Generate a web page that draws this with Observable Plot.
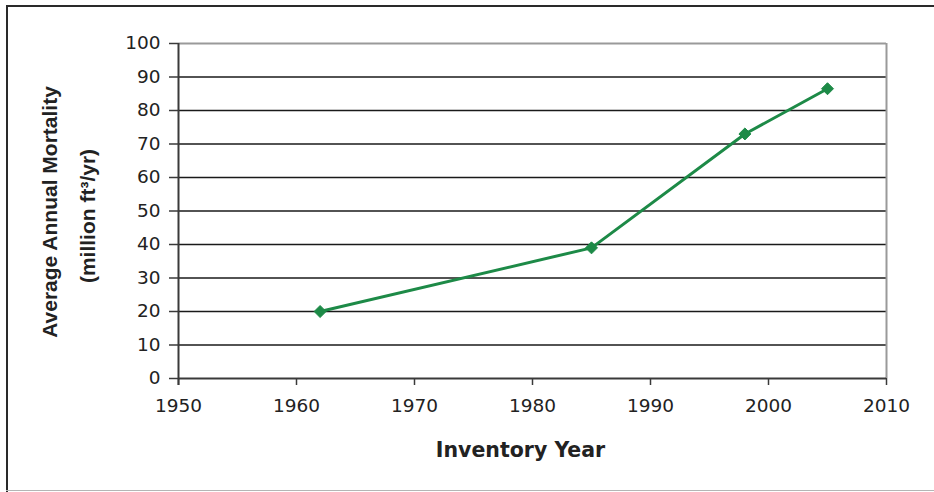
<!DOCTYPE html>
<html>
<head>
<meta charset="utf-8">
<script src="https://cdn.jsdelivr.net/npm/d3@7"></script>
<script src="https://cdn.jsdelivr.net/npm/@observablehq/plot@0.6"></script>
<style>
  html, body { margin: 0; padding: 0; background: #fff; }
  #wrap { position: relative; width: 934px; height: 492px; overflow: hidden; }
  .b { position: absolute; }
</style>
</head>
<body>
<div id="wrap">
  <div id="chart"></div>
  <div class="b" style="left:6px;top:5px;width:928px;height:2px;background:#2a2a2a"></div>
  <div class="b" style="left:6px;top:5px;width:2px;height:487px;background:#2a2a2a"></div>
  <div class="b" style="left:6px;top:490px;width:928px;height:1px;background:#b5b5b5"></div>
</div>
<script>
// Data
const years = [1962, 1985, 1998, 2005];
const mortality = [20, 39, 73, 86.5];
const xTicks = [1950, 1960, 1970, 1980, 1990, 2000, 2010];
const yTicks = [0, 10, 20, 30, 40, 50, 60, 70, 80, 90, 100];
const xTitle = "Inventory Year";
const yTitle1 = "Average Annual Mortality";
const yTitle2 = "(million ft³/yr)";

const data = years.map((y, i) => ({year: y, value: mortality[i]}));
const green = "#1d8a47";

const chart = Plot.plot({
  width: 934,
  height: 492,
  marginLeft: 178,
  marginRight: 48,
  marginTop: 43,
  marginBottom: 114,
  style: {fontFamily: "'DejaVu Sans', sans-serif", background: "transparent", color: "#222"},
  x: {domain: [xTicks[0], xTicks[xTicks.length - 1]]},
  y: {domain: [yTicks[0], yTicks[yTicks.length - 1]]},
  marks: [
    // horizontal gridlines (inner)
    Plot.ruleY(yTicks.slice(1, -1), {stroke: "#1a1a1a", strokeWidth: 1.6}),
    // top and right plot border (gray)
    Plot.ruleY([yTicks[yTicks.length - 1]], {stroke: "#9a9a9a", strokeWidth: 2}),
    Plot.ruleX([xTicks[xTicks.length - 1]], {stroke: "#9a9a9a", strokeWidth: 2}),
    // axis lines
    Plot.ruleY([yTicks[0]], {stroke: "#3a3a3a", strokeWidth: 2}),
    Plot.ruleX([xTicks[0]], {stroke: "#3a3a3a", strokeWidth: 2, insetBottom: -7}),
    Plot.axisY({ticks: yTicks, tickSize: 9, tickPadding: 9, fontSize: 18.5, label: null, stroke: "#3a3a3a", strokeWidth: 1.5, fill: "#222"}),
    Plot.axisX({ticks: xTicks, tickSize: 7, tickPadding: 13, fontSize: 18.5, label: null, tickFormat: d => String(d), stroke: "#3a3a3a", strokeWidth: 1.5, fill: "#222"}),
    // series
    Plot.line(data, {x: "year", y: "value", stroke: green, strokeWidth: 3}),
    Plot.dot(data, {x: "year", y: "value", symbol: "diamond2", r: 5.4, fill: green, stroke: green, strokeWidth: 1}),
    // titles
    Plot.text([xTitle], {text: d => d, frameAnchor: "bottom", lineAnchor: "bottom", dx: -12, dy: 78, fontSize: 20.5, fontWeight: "bold", fill: "#222"}),
    Plot.text([yTitle1], {text: d => d, frameAnchor: "left", textAnchor: "middle", lineAnchor: "middle", rotate: -90, dx: -128, dy: 1, fontSize: 21, fontWeight: "bold", fontFamily: "'Liberation Sans', Arial, sans-serif", fill: "#222"}),
    Plot.text([yTitle2], {text: d => d, frameAnchor: "left", textAnchor: "middle", lineAnchor: "middle", rotate: -90, dx: -90, dy: 5, fontSize: 21, fontWeight: "bold", fontFamily: "'Liberation Sans', Arial, sans-serif", fill: "#222"})
  ]
});
document.getElementById("chart").appendChild(chart);
</script>
</body>
</html>
